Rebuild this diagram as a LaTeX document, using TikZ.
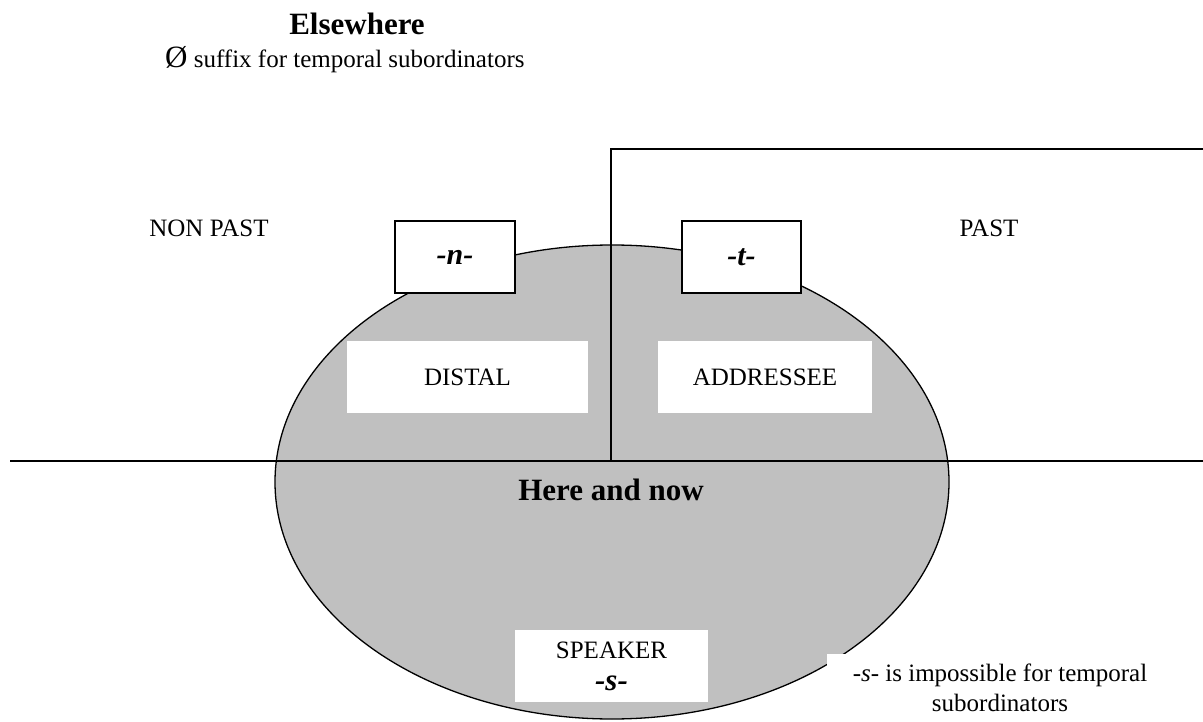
\documentclass[tikz,border=0pt]{standalone}
\usepackage{fontspec}
\setmainfont{Liberation Serif}
\usetikzlibrary{shapes.geometric}
\definecolor{ellgray}{RGB}{192,192,192}
\begin{document}
\begin{tikzpicture}[x=1pt,y=-1pt,
  ln/.style={line width=1.3pt},
  txt/.style={font=\fontsize{25}{30}\selectfont, inner sep=0pt},
  bigb/.style={font=\fontsize{31}{36}\selectfont\bfseries, inner sep=0pt},
  sufbox/.style={draw, line width=1.3pt, fill=white, minimum width=120pt, minimum height=72pt, inner sep=0pt, font=\fontsize{30}{30}\selectfont\bfseries\itshape},
  labbox/.style={fill=white, minimum height=72pt, inner sep=0pt, font=\fontsize{25}{30}\selectfont}]
\useasboundingbox (0,0) rectangle (1203,722);
% regions
\node[ellipse, draw, ln, fill=ellgray, minimum width=674pt, minimum height=474pt, inner sep=0pt] (hn) at (612,482) {};
\coordinate (vt) at (611,149);
\coordinate (vb) at (611,461);
\coordinate (hl) at (10,461);
\coordinate (hr) at (1203,461);
\coordinate (tr) at (1203,149);
\draw[ln] (hl) -- (hr);
\draw[ln] (vb) -- (vt) -- (tr);
% headings
\node[bigb, anchor=base] (else) at (357,35) {Elsewhere};
\node[txt, anchor=base west] (zero) at (165,68) {{\fontsize{31}{31}\selectfont Ø} suffix for temporal subordinators};
\node[txt, anchor=base] (nonpast) at (209,237) {NON PAST};
\node[txt, anchor=base] (past) at (989,237) {PAST};
% suffix boxes
\node[sufbox] (n) at (455,257) {-n-};
\node[sufbox, minimum width=119pt] (t) at (741.5,257) {-t-};
% label boxes
\node[labbox, minimum width=241pt] (distal) at (467.5,377) {DISTAL};
\node[labbox, minimum width=214pt] (addr) at (765,377) {ADDRESSEE};
\node[bigb, anchor=base] (here) at (611,500) {Here and now};
\node[labbox, align=center, minimum width=193pt] (spk) at (611.5,666) {SPEAKER\\[2pt]{\fontsize{31}{31}\selectfont\bfseries\itshape -s-}};
\node[labbox, align=center, minimum width=346pt, minimum height=69pt] (note) at (1000,688) {-\textit{s}- is impossible for temporal\\subordinators};
\end{tikzpicture}
\end{document}
